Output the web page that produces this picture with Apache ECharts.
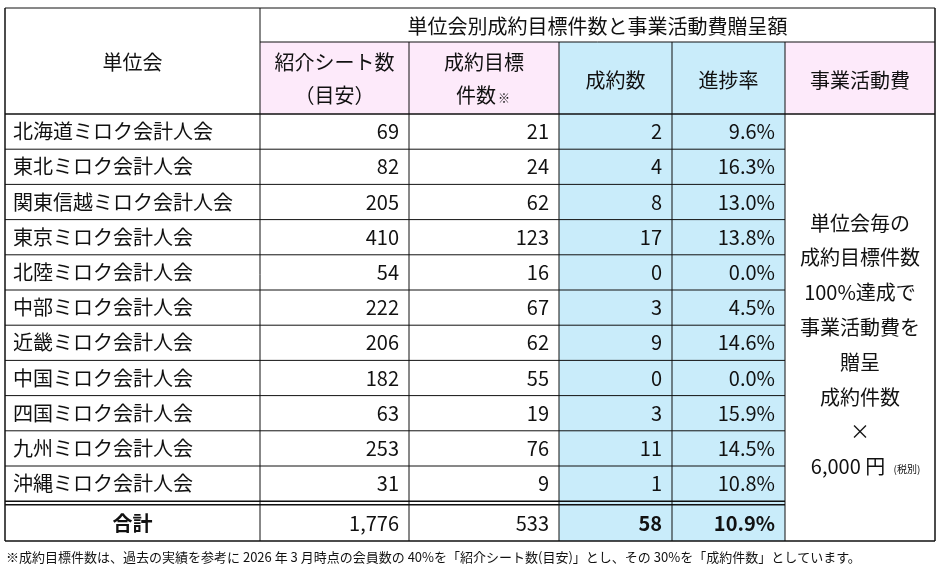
<!DOCTYPE html>
<html><head><meta charset="utf-8">
<script src="https://cdn.jsdelivr.net/npm/echarts@6/dist/echarts.min.js"></script>
<style>html,body{margin:0;background:#fff}#c{width:942px;height:575px}</style>
</head><body><div id="c"></div>
<script>
var units = ['北海道ミロク会計人会','東北ミロク会計人会','関東信越ミロク会計人会','東京ミロク会計人会','北陸ミロク会計人会','中部ミロク会計人会','近畿ミロク会計人会','中国ミロク会計人会','四国ミロク会計人会','九州ミロク会計人会','沖縄ミロク会計人会'];
var sheets = [69,82,205,410,54,222,206,182,63,253,31];
var targets = [21,24,62,123,16,67,62,55,19,76,9];
var deals = [2,4,8,17,0,3,9,0,3,11,1];
var rates = ['9.6%','16.3%','13.0%','13.8%','0.0%','4.5%','14.6%','0.0%','15.9%','14.5%','10.8%'];
var totals = ['1,776','533','58','10.9%'];
var note = '※成約目標件数は、過去の実績を参考に 2026 年 3 月時点の会員数の 40%を「紹介シート数(目安)」とし、その 30%を「成約件数」としています。';

var xs = [5,260,409,559,672,785,935];
var yTop = 8, yMid = 42, yHead = 114, rowH = 35.2;
var yTotal = yHead + rowH*units.length, yBottom = 541;
var FONT = '"Noto Sans CJK JP", sans-serif';
var PINK = '#fdeafa', BLUE = '#c9ecfa';
var g = [];

function rect(x1,y1,x2,y2,fill){ g.push({type:'rect',shape:{x:x1,y:y1,width:x2-x1,height:y2-y1},style:{fill:fill},z:0}); }
function line(x1,y1,x2,y2,w){ g.push({type:'line',shape:{x1:x1,y1:y1,x2:x2,y2:y2},style:{stroke:'#111',lineWidth:w||1},z:2}); }
function txt(s,x,y,align,size,bold){ g.push({type:'text',x:x,y:y,style:{text:s,fill:'#111',font:(bold?'bold ':'')+(size||20)+'px '+FONT,textAlign:align||'center',textVerticalAlign:'middle'},z:3}); }

// fills
rect(xs[1],yMid,xs[3],yHead,PINK);
rect(xs[5],yMid,xs[6],yHead,PINK);
rect(xs[3],yMid,xs[5],yBottom,BLUE);

// header text
txt('単位会',(xs[0]+xs[1])/2,62);
txt('単位会別成約目標件数と事業活動費贈呈額',(xs[1]+xs[6])/2,26);
txt('紹介シート数',(xs[1]+xs[2])/2,62);
txt('（目安）',(xs[1]+xs[2])/2,95);
txt('成約目標',(xs[2]+xs[3])/2,62);
txt('件数',(xs[2]+xs[3])/2-8,95);
txt('※',(xs[2]+xs[3])/2+20,98,'center',12);
txt('成約数',(xs[3]+xs[4])/2,80);
txt('進捗率',(xs[4]+xs[5])/2,80);
txt('事業活動費',(xs[5]+xs[6])/2,80);

// rows
units.forEach(function(u,i){
  var cy = yHead + rowH*i + rowH/2;
  txt(u,xs[0]+8,cy,'left');
  txt(String(sheets[i]),xs[2]-10,cy,'right');
  txt(String(targets[i]),xs[3]-10,cy,'right');
  txt(String(deals[i]),xs[4]-10,cy,'right');
  txt(rates[i],xs[5]-10,cy,'right');
  if(i>0) line(xs[0],yHead+rowH*i,xs[5],yHead+rowH*i);
});
var ty = (yTotal+4+yBottom)/2;
txt('合計',(xs[0]+xs[1])/2,ty,'center',20,true);
txt(totals[0],xs[2]-10,ty,'right');
txt(totals[1],xs[3]-10,ty,'right');
txt(totals[2],xs[4]-10,ty,'right',20,true);
txt(totals[3],xs[5]-10,ty,'right',20,true);

// merged cell text
var side = ['単位会毎の','成約目標件数','100%達成で','事業活動費を','贈呈','成約件数','×'];
side.forEach(function(s,i){ txt(s,(xs[5]+xs[6])/2,223+i*34.8); });
txt('6,000 円',(xs[5]+xs[6])/2-12,466);
txt('(税別)',(xs[5]+xs[6])/2+47,469,'center',10);

// lines
line(xs[0],yTop,xs[6],yTop);
line(xs[1],yMid,xs[6],yMid);
line(xs[0],yHead,xs[6],yHead,1.5);
line(xs[0],yTotal,xs[5],yTotal,1.5);
line(xs[0],yTotal+3.5,xs[5],yTotal+3.5,1.5);
line(xs[0],yBottom,xs[6],yBottom,1.5);
line(xs[0],yTop,xs[0],yBottom,1.5);
line(xs[6],yTop,xs[6],yBottom,1.5);
line(xs[1],yTop,xs[1],yBottom);
[2,3,4].forEach(function(k){ line(xs[k],yMid,xs[k],yBottom); });
line(xs[5],yMid,xs[5],yBottom);

txt(note,6,557,'left',13);

var chart = echarts.init(document.getElementById('c'));
chart.setOption({ animation:false, graphic:{ elements:g } });
</script></body></html>
